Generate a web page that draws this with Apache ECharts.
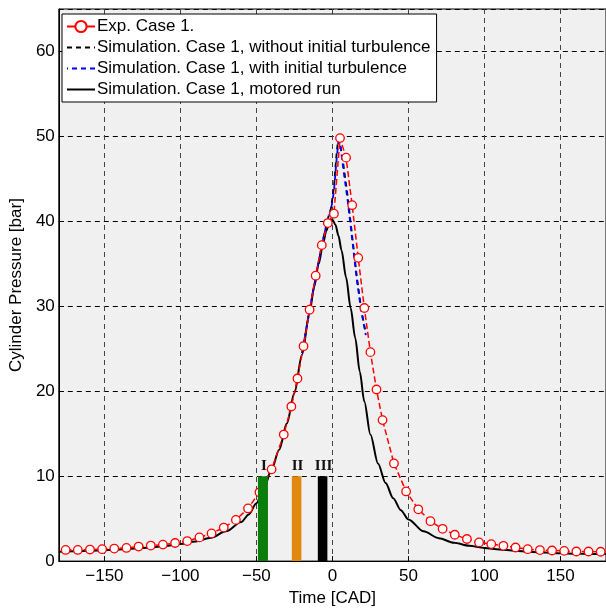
<!DOCTYPE html>
<html>
<head>
<meta charset="utf-8">
<script src="https://cdn.jsdelivr.net/npm/echarts@6/dist/echarts.min.js"></script>
<style>html,body{margin:0;padding:0;background:#fff;}#c{width:606px;height:612px;}</style>
</head>
<body>
<div id="c"></div>
<script>
// Experimental data (crank angle, pressure)
var expX = [-175.5,-167.5,-159.5,-151.5,-143.5,-135.5,-127.5,-119.5,-111.5,-103.5,-95.5,-87.5,-79.5,-71.5,-63.5,-55.5,-48,-40,-32,-27,-23,-19,-15,-11,-7,-3,1,5,9,13,17,21,25,29,33,40.5,48.5,56.5,64.5,72.5,80.5,88.5,96.5,104.5,112.5,120.5,128.5,136.5,144.5,152.5,160.5,168.5,176.5];
var expP = [1.31,1.31,1.36,1.40,1.48,1.55,1.71,1.83,1.94,2.13,2.36,2.79,3.26,3.95,4.85,6.2,8.1,10.8,14.9,18.2,21.5,25.3,29.6,33.6,37.2,39.8,40.9,49.8,47.5,41.9,35.7,29.8,24.6,20.2,16.6,11.5,8.2,6.1,4.7,3.8,3.1,2.6,2.2,2.0,1.8,1.6,1.4,1.3,1.25,1.2,1.13,1.13,1.1];

// Simulation without initial turbulence
var noTurbX = [-20,-15,-10,-6,-3,-1,1,2.5,3.8,5,7,10,13,16,19,22];
var noTurbP = [24.5,29.5,34.4,38,40.3,41.5,44,47.5,49.7,49.2,47,43,38.3,33.6,29.6,26.8];

// Simulation with initial turbulence
var turbX = [-20,-15,-10,-6,-3,-1,1,2.5,4,5.5,7,10,13,16,19,22];
var turbP = [24.5,29.5,34.4,38,40.2,41.3,43.5,46.8,49.5,48.6,46.4,42.5,37.9,33.2,29.4,26.6];

// Motored run
var motX = [-180,-170,-160,-150,-140,-130,-120,-110,-100,-90,-80,-70,-60,-55,-50,-45,-40,-35,-30,-25,-20,-15,-12,-9,-6,-4,-2,0,2,4,6,9,12,15,18,21,25,30,35,40,45,50,60,70,80,90,100,110,120,130,140,150,160,170,180];
var motP = [1.1,1.15,1.22,1.3,1.38,1.48,1.6,1.78,2.0,2.3,2.75,3.5,4.6,5.5,6.8,8.6,10.8,13.1,16.2,19.8,24.3,29.3,32.3,35.0,37.5,38.9,39.9,40.2,39.6,38.3,36.6,33.4,29.8,26.3,22.3,18.8,14.9,11.5,9.2,7.4,6.0,4.9,3.5,2.7,2.15,1.8,1.55,1.38,1.22,1.1,1.0,0.93,0.88,0.85,0.83];

// Marked intervals
var bandLabels = ['I','II','III'];
var bandStart = [-49,-26.7,-9.6];
var bandEnd = [-42.4,-20.4,-3.3];
var bandTop = [10,10,10];

var legendNames = ['Exp. Case 1.','Simulation. Case 1, without initial turbulence','Simulation. Case 1, with initial turbulence','Simulation. Case 1, motored run'];

function zip(xs, ys){ return xs.map(function(x,i){ return [x, ys[i]]; }); }

var FONT = 'Liberation Sans, Arial, Helvetica, sans-serif';
var bandColors = ['#0b7d0b','#e0890c','#000000'];

var chart = echarts.init(document.getElementById('c'), null, {renderer:'canvas'});
chart.setOption({
  animation: false,
  backgroundColor: '#ffffff',
  grid: {left: 58, top: 9, right: -9, bottom: 44, show: true, backgroundColor: '#f0f0f0', borderColor: '#000', borderWidth: 1},
  legend: {
    orient: 'vertical', left: 62, top: 14,
    backgroundColor: '#ffffff', borderColor: '#000', borderWidth: 1, borderRadius: 0,
    padding: [4, 6, 4, 4], itemWidth: 28, itemHeight: 14, itemGap: 4,
    textStyle: {fontSize: 17, fontFamily: FONT, color: '#000', lineHeight: 17, padding: [0,0,0,-3]},
    data: [
      {name: legendNames[0], lineStyle: {type: 'solid'}},
      {name: legendNames[1], itemStyle: {opacity: 0}},
      {name: legendNames[2], itemStyle: {opacity: 0}},
      {name: legendNames[3], itemStyle: {opacity: 0}}
    ]
  },
  xAxis: {
    type: 'value', min: -180, max: 180, minInterval: 50, maxInterval: 50,
    name: 'Time [CAD]', nameLocation: 'middle', nameGap: 26,
    nameTextStyle: {fontSize: 17, fontFamily: FONT, color: '#000'},
    axisLine: {show: true, onZero: false, lineStyle: {color: '#000', width: 1}},
    axisTick: {show: true, inside: true, length: 5, lineStyle: {color: '#000'}},
    axisLabel: {showMinLabel: false, showMaxLabel: false, margin: 7, fontSize: 17, fontFamily: FONT, color: '#000',
      formatter: function(v){ return v < 0 ? '\u2212' + Math.abs(v) : String(v); }},
    splitLine: {show: true, lineStyle: {color: '#444', type: [5,4], width: 1}}
  },
  yAxis: {
    type: 'value', min: 0, max: 65, interval: 10,
    name: 'Cylinder Pressure [bar]', nameLocation: 'middle', nameGap: 23,
    nameTextStyle: {fontSize: 17, fontFamily: FONT, color: '#000'},
    axisLine: {show: true, onZero: false, lineStyle: {color: '#000', width: 1}},
    axisTick: {show: true, inside: true, length: 5, lineStyle: {color: '#000'}},
    axisLabel: {showMaxLabel: false, margin: 4, fontSize: 17, fontFamily: FONT, color: '#000'},
    splitLine: {show: true, lineStyle: {color: '#000', type: [5,4], width: 1}}
  },
  series: [
    {
      name: legendNames[3], type: 'line', data: zip(motX, motP), showSymbol: false, symbol: 'none',
      smooth: 0.3, smoothMonotone: 'x', z: 2,
      lineStyle: {color: '#000', width: 2, type: 'solid'}, itemStyle: {color: '#000'}
    },
    {
      name: legendNames[1], type: 'line', data: zip(noTurbX, noTurbP), symbol: 'none', z: 3,
      lineStyle: {color: '#000', width: 1.8, type: [5,4]}, itemStyle: {color: '#000'}
    },
    {
      name: legendNames[2], type: 'line', data: zip(turbX, turbP), symbol: 'none', z: 4,
      lineStyle: {color: '#0000ff', width: 1.8, type: [5,4], dashOffset: 4}, itemStyle: {color: '#0000ff'}
    },
    {
      name: legendNames[0], type: 'line', data: zip(expX, expP), symbol: 'circle', symbolSize: 8.5, z: 5,
      lineStyle: {color: '#ff0000', width: 1.5, type: [6,3]},
      itemStyle: {color: '#ffffff', borderColor: '#ff0000', borderWidth: 1.3}
    },
    {
      type: 'custom', z: 10, silent: true,
      data: bandStart.map(function(s, i){ return [s, bandEnd[i], bandTop[i], i]; }),
      encode: {x: [0, 1], y: 2},
      renderItem: function(params, api){
        var i = api.value(3);
        var p0 = api.coord([api.value(0), 0]);
        var p1 = api.coord([api.value(1), api.value(2)]);
        return {
          type: 'group',
          children: [
            {type: 'rect', shape: {x: p0[0], y: p1[1], width: p1[0] - p0[0], height: p0[1] - p1[1]},
             style: {fill: bandColors[i]}},
            {type: 'text', x: (p0[0] + p1[0]) / 2 + 1, y: p1[1] - 3,
             style: {text: bandLabels[i], fill: '#111', font: 'bold 15px "Liberation Serif", "Times New Roman", serif', align: 'center', verticalAlign: 'bottom'}}
          ]
        };
      }
    }
  ]
});
</script>
</body>
</html>
